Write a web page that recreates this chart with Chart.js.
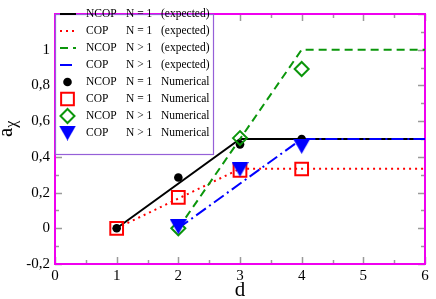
<!DOCTYPE html>
<html><head><meta charset="utf-8">
<script src="https://cdn.jsdelivr.net/npm/chart.js@4/dist/chart.umd.min.js"></script>
<style>html,body{margin:0;padding:0;background:#fff}#wrap{width:436px;height:299px}</style>
</head><body><div id="wrap"><canvas id="c" width="436" height="299"></canvas></div>
<script>
// ---- data ----
const dExpectedN1 = [1, 3, 6];
const ncopN1Expected = [0, 0.5, 0.5];
const copN1Expected = [0, 0.333, 0.333];
const dExpectedNgt1 = [2, 4, 6];
const ncopNgt1Expected = [0, 1, 1];
const copNgt1Expected = [0, 0.5, 0.5];

const dNumericalN1 = [1, 2, 3, 4];
const ncopN1Numerical = [0, 0.284, 0.47, 0.5];
const copN1Numerical = [0, 0.173, 0.324, 0.332];
const dNumericalNgt1 = [2, 3, 4];
const ncopNgt1Numerical = [0, 0.505, 0.892];
const copNgt1Numerical = [0.008, 0.33, 0.459];

const legendModel = ['NCOP', 'COP', 'NCOP', 'COP', 'NCOP', 'COP', 'NCOP', 'COP'];
const legendN = ['N = 1', 'N = 1', 'N > 1', 'N > 1', 'N = 1', 'N = 1', 'N > 1', 'N > 1'];
const legendKind = ['(expected)', '(expected)', '(expected)', '(expected)', 'Numerical', 'Numerical', 'Numerical', 'Numerical'];

const xTickValues = [0, 1, 2, 3, 4, 5, 6];
const yTickValues = [-0.2, 0, 0.2, 0.4, 0.6, 0.8, 1];
const yMajorMarks = [-0.2, 0, 0.2, 0.4, 0.6, 0.8, 1, 1.2];
const xTitle = 'd';
const yTitleMain = 'a';
const yTitleSub = 'χ';

// ---- styling ----
const SERIF = '"Liberation Serif", "DejaVu Serif", serif';
const C_BLACK = '#000000', C_RED = '#ff0000', C_GREEN = '#0b960b', C_BLUE = '#0000ff';

const tri = document.createElement('canvas');
tri.width = 17; tri.height = 15;
(function () {
  const t = tri.getContext('2d');
  t.fillStyle = C_BLUE;
  t.beginPath(); t.moveTo(0, 0); t.lineTo(17, 0); t.lineTo(8.5, 15); t.closePath(); t.fill();
})();

function pts(xs, ys) { return xs.map((x, i) => ({ x: x, y: ys[i] })); }
function lineSet(xs, ys, color, dash) {
  return { data: pts(xs, ys), showLine: true, pointRadius: 0, borderColor: color, backgroundColor: color,
    borderWidth: 2, borderDash: dash, fill: false, tension: 0 };
}
function markSet(xs, ys, style, radius, color, filled, rot) {
  return { data: pts(xs, ys), showLine: false, pointStyle: style, pointRadius: radius,
    pointRotation: rot || 0, borderColor: color, backgroundColor: filled ? color : 'rgba(0,0,0,0)',
    pointBorderWidth: filled ? 0 : 2, borderWidth: filled ? 0 : 2 };
}

const datasets = [
  lineSet(dExpectedN1, ncopN1Expected, C_BLACK, []),
  lineSet(dExpectedN1, copN1Expected, C_RED, [2, 4]),
  lineSet(dExpectedNgt1, ncopNgt1Expected, C_GREEN, [8, 5]),
  lineSet(dExpectedNgt1, copNgt1Expected, C_BLUE, [12, 4, 2, 4]),
  markSet(dNumericalN1, ncopN1Numerical, 'circle', 4.3, C_BLACK, true),
  markSet(dNumericalN1, copN1Numerical, 'rect', 9, C_RED, false),
  markSet(dNumericalNgt1, ncopNgt1Numerical, 'rectRot', 7, C_GREEN, false),
  markSet(dNumericalNgt1, copNgt1Numerical, tri, 8, C_BLUE, true)
];
datasets.forEach((d, i) => { d.order = 20 - i; });

function fmt(v) { return String(Math.round(v * 10) / 10).replace('.', ','); }

const framePlugin = {
  id: 'frame',
  beforeDatasetsDraw(chart) {
    const ctx = chart.ctx, a = chart.chartArea, xs = chart.scales.x, ys = chart.scales.y;
    ctx.save();
    ctx.strokeStyle = '#9a9a9a'; ctx.lineWidth = 1.5;
    const majL = 7, minL = 4;
    const xMinor = []; for (let i = 0; i < xTickValues.length - 1; i++) xMinor.push((xTickValues[i] + xTickValues[i + 1]) / 2);
    const yMinor = []; for (let i = 0; i < yMajorMarks.length - 1; i++) yMinor.push((yMajorMarks[i] + yMajorMarks[i + 1]) / 2);
    ctx.beginPath();
    xTickValues.forEach(v => { const p = Math.round(xs.getPixelForValue(v)) + 0.5;
      ctx.moveTo(p, a.bottom); ctx.lineTo(p, a.bottom - majL); ctx.moveTo(p, a.top); ctx.lineTo(p, a.top + majL); });
    xMinor.forEach(v => { const p = Math.round(xs.getPixelForValue(v)) + 0.5;
      ctx.moveTo(p, a.bottom); ctx.lineTo(p, a.bottom - minL); ctx.moveTo(p, a.top); ctx.lineTo(p, a.top + minL); });
    yMajorMarks.forEach(v => { const p = Math.round(ys.getPixelForValue(v)) + 0.5;
      ctx.moveTo(a.left, p); ctx.lineTo(a.left + majL, p); ctx.moveTo(a.right, p); ctx.lineTo(a.right - majL, p); });
    yMinor.forEach(v => { const p = Math.round(ys.getPixelForValue(v)) + 0.5;
      ctx.moveTo(a.left, p); ctx.lineTo(a.left + minL, p); ctx.moveTo(a.right, p); ctx.lineTo(a.right - minL, p); });
    ctx.stroke();
    ctx.strokeStyle = '#f000f0'; ctx.lineWidth = 2;
    ctx.strokeRect(a.left, a.top, a.right - a.left, a.bottom - a.top);
    ctx.restore();
  },
  afterDraw(chart) {
    const ctx = chart.ctx, a = chart.chartArea;
    ctx.save();
    // axis titles
    ctx.fillStyle = '#000';
    ctx.font = '21px ' + SERIF; ctx.textAlign = 'center'; ctx.textBaseline = 'alphabetic';
    ctx.fillText(xTitle, (a.left + a.right) / 2, 296);
    ctx.translate(12, 137); ctx.rotate(-Math.PI / 2);
    ctx.textAlign = 'left';
    ctx.font = '21px ' + SERIF; ctx.fillText(yTitleMain, 0, 0);
    const w = ctx.measureText(yTitleMain).width;
    ctx.font = '16px ' + SERIF; ctx.fillText(yTitleSub, w, 4);
    ctx.restore();

    // legend
    ctx.save();
    const bx = a.left, by = a.top, bw = 158, bh = 140;
    ctx.fillStyle = '#fff'; ctx.fillRect(bx, by, bw, bh);
    ctx.strokeStyle = '#9560d8'; ctx.lineWidth = 1.2;
    ctx.strokeRect(bx + 0.5, by + 0.5, bw, bh);
    ctx.font = '11.5px ' + SERIF; ctx.textBaseline = 'middle'; ctx.textAlign = 'left'; ctx.fillStyle = '#000';
    for (let i = 0; i < datasets.length; i++) {
      const ds = datasets[i];
      const y = 14 + i * 17;
      if (ds.showLine) {
        ctx.save();
        ctx.strokeStyle = ds.borderColor; ctx.lineWidth = 2; ctx.setLineDash(ds.borderDash);
        ctx.beginPath(); ctx.moveTo(60, y); ctx.lineTo(76, y); ctx.stroke();
        ctx.restore();
      } else {
        ctx.save();
        ctx.strokeStyle = ds.borderColor; ctx.fillStyle = ds.backgroundColor; ctx.lineWidth = ds.pointBorderWidth;
        Chart.helpers.drawPoint(ctx, { pointStyle: ds.pointStyle, radius: ds.pointRadius, rotation: 0,
          borderWidth: ds.pointBorderWidth }, 67.5, y);
        ctx.restore();
      }
      ctx.fillStyle = '#000';
      ctx.fillText(legendModel[i], 86, y);
      ctx.fillText(legendN[i], 126, y);
      ctx.fillText(legendKind[i], 161, y);
    }
    ctx.restore();
  }
};

new Chart(document.getElementById('c'), {
  type: 'scatter',
  data: { datasets: datasets },
  options: {
    responsive: false, animation: false, devicePixelRatio: 1,
    layout: { padding: { top: 1.5, right: 5, left: 0, bottom: 0 } },
    plugins: { legend: { display: false }, tooltip: { enabled: false } },
    scales: {
      x: {
        type: 'linear', min: 0, max: 6,
        afterBuildTicks: s => { s.ticks = xTickValues.map(v => ({ value: v })); },
        afterFit: s => { s.height = 35; },
        grid: { display: false, drawTicks: false }, border: { display: false },
        ticks: { font: { family: SERIF, size: 15 }, color: '#000', padding: 3, maxRotation: 0, autoSkip: false,
          callback: v => fmt(v) }
      },
      y: {
        type: 'linear', min: -0.2, max: 1.2,
        afterBuildTicks: s => { s.ticks = yTickValues.map(v => ({ value: v })); },
        afterFit: s => { s.width = 55; },
        grid: { display: false, drawTicks: false }, border: { display: false },
        ticks: { font: { family: SERIF, size: 15 }, color: '#000', padding: 5, autoSkip: false,
          callback: v => fmt(v) }
      }
    }
  },
  plugins: [framePlugin]
});
</script></body></html>
